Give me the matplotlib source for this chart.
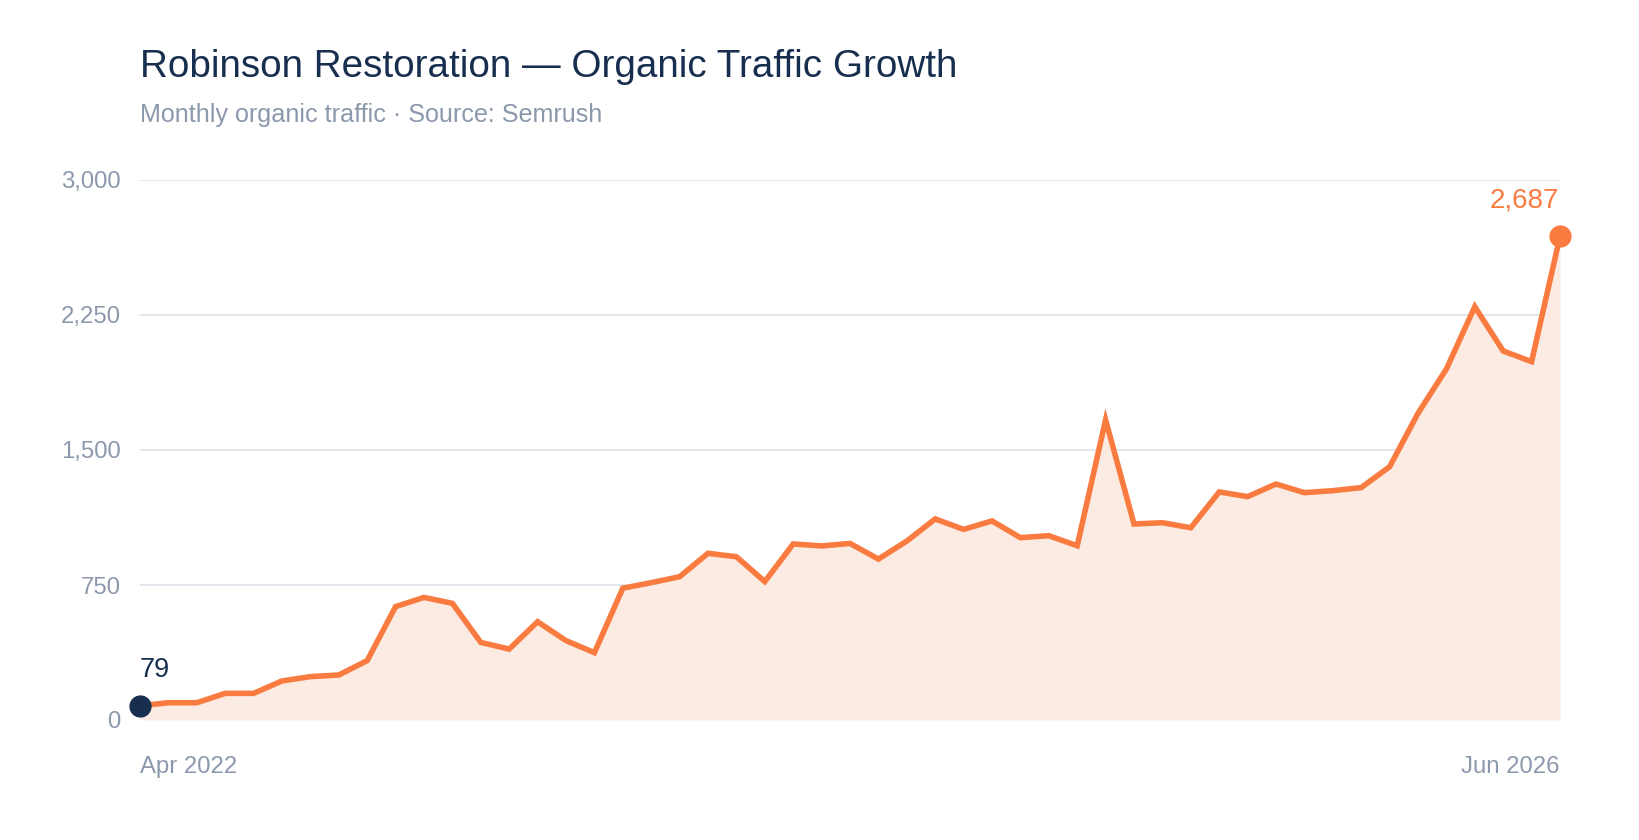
import matplotlib
matplotlib.use("Agg")
import matplotlib.pyplot as plt
import numpy as np

# ---- data ----
months_start = "Apr 2022"
months_end = "Jun 2026"
traffic = [79, 96, 96, 148, 148, 217, 241, 250, 330, 630,
           681, 648, 431, 394, 546, 441, 374, 732, 763, 796,
           926, 907, 769, 978, 967, 981, 894, 994, 1117, 1059,
           1106, 1013, 1024, 968, 1667, 1089, 1096, 1068, 1267, 1241,
           1311, 1263, 1274, 1291, 1407, 1704, 1950, 2296, 2050, 1991,
           2687]
y_ticks = [0, 750, 1500, 2250, 3000]
title = "Robinson Restoration \u2014 Organic Traffic Growth"
subtitle = "Monthly organic traffic \u00b7 Source: Semrush"

# ---- style ----
plt.rcParams['font.family'] = ['Liberation Sans', 'DejaVu Sans']
ORANGE = "#F97B3F"
FILL = "#FCEBE3"
NAVY = "#172E4F"
GRAY = "#8C98AC"
GRID = "#E2E6ED"

W, H, DPI = 1640, 840, 100
fig = plt.figure(figsize=(W / DPI, H / DPI), dpi=DPI)
fig.patch.set_facecolor("white")

L, R, T, B = 140, 1560, 180, 720
ax = fig.add_axes([L / W, 1 - B / H, (R - L) / W, (B - T) / H])

x = np.arange(len(traffic))
y = np.array(traffic)

ax.fill_between(x, 0, y, color=FILL, zorder=1, linewidth=0)
ax.plot(x, y, color=ORANGE, lw=4.0, solid_joinstyle="miter", zorder=3)

ax.set_xlim(0, len(traffic) - 1)
ax.set_ylim(0, 3000)

for s in ax.spines.values():
    s.set_visible(False)

ax.set_yticks(y_ticks)
ax.set_yticklabels([f"{v:,}" for v in y_ticks])
ax.yaxis.grid(True, color=GRID, lw=1.4, zorder=0)
ax.set_axisbelow(True)
ax.tick_params(axis="y", length=0, pad=14, labelsize=17.2, labelcolor=GRAY)

ax.set_xticks([0, len(traffic) - 1])
ax.set_xticklabels([months_start, months_end])
ax.tick_params(axis="x", length=0, pad=26, labelsize=17.2, labelcolor=GRAY)
xl = ax.get_xticklabels()
xl[0].set_ha("left")
xl[1].set_ha("right")

# endpoints
ax.plot([x[0]], [y[0]], "o", ms=15, color=NAVY, zorder=5, clip_on=False)
ax.plot([x[-1]], [y[-1]], "o", ms=15, color=ORANGE, zorder=5, clip_on=False)

ax.annotate(f"{y[0]:,}", (x[0], y[0]), xytext=(0, 29), textcoords="offset pixels",
            ha="left", va="baseline", fontsize=19.5, color=NAVY)
ax.annotate(f"{y[-1]:,}", (x[-1], y[-1]), xytext=(-1, 29), textcoords="offset pixels",
            ha="right", va="baseline", fontsize=20, color=ORANGE)

# title / subtitle
fig.text(L / W, 1 - 77 / H, title, ha="left", va="baseline",
         fontsize=27.8, color=NAVY)
fig.text(L / W, 1 - 122 / H, subtitle, ha="left", va="baseline",
         fontsize=18.1, color=GRAY)

fig.savefig("out.png", dpi=DPI, facecolor="white")
